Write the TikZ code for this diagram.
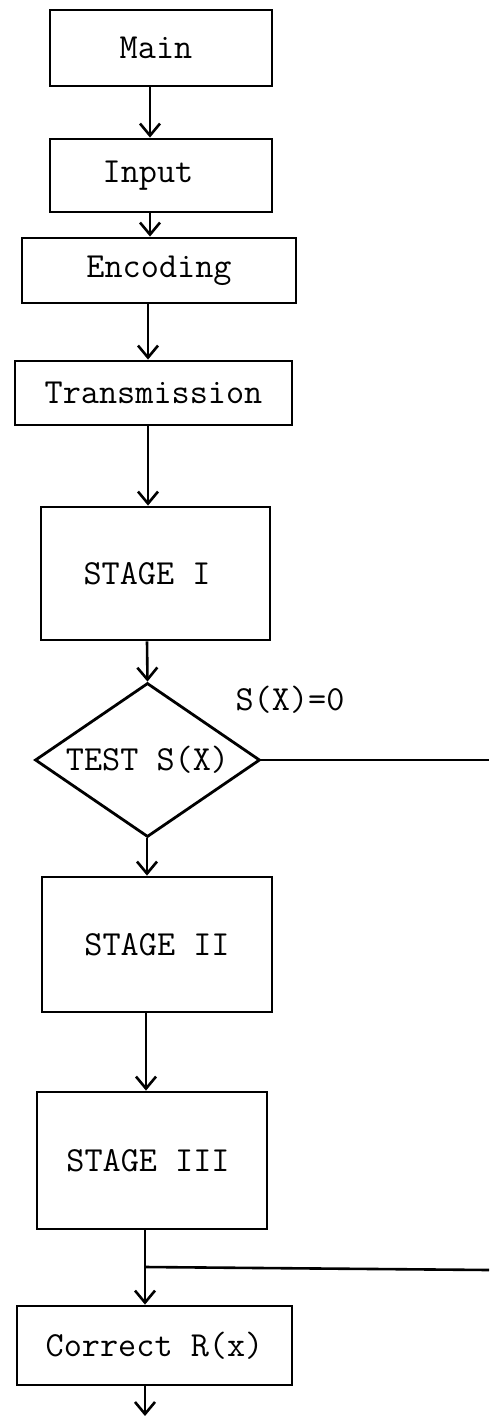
\documentclass[tikz,border=0pt]{standalone}
\usetikzlibrary{arrows.meta,shapes.geometric}
\begin{document}
\begin{tikzpicture}[x=0.5pt,y=-0.5pt,
  every node/.style={font=\ttfamily\fontsize{17.6pt}{20pt}\selectfont},
  box/.style={draw,line width=1.4pt,inner sep=0pt},
  dec/.style={draw,diamond,line width=1.4pt,inner sep=0pt,aspect=1.46},
  flow/.style={line width=1.3pt},
  arr/.style={flow,-{Straight Barb[length=6pt,width=10pt,line width=1.3pt]}},
  lbl/.style={inner sep=0pt}]
\useasboundingbox (0,0) rectangle (489,1416);
% boxes
\node[box,minimum width=111pt,minimum height=38pt] (main) at (161,48) {Main\kern5pt};
\node[box,minimum width=111pt,minimum height=36.5pt] (input) at (161,175.5) {Input\kern13pt};
\node[box,minimum width=137pt,minimum height=32.5pt] (enc) at (159,270.5) {Encoding};
\node[box,minimum width=138.5pt,minimum height=32pt] (trans) at (153.5,393) {Transmission};
\node[box,minimum width=114.5pt,minimum height=66.5pt] (s1) at (155.5,573.5) {STAGE I\kern8.5pt};
\node[dec,minimum width=112.5pt,minimum height=77pt] (test) at (147.5,760) {TEST S(X)};
\node[box,minimum width=115pt,minimum height=67.5pt] (s2) at (157,944.5) {STAGE II};
\node[box,minimum width=115pt,minimum height=68.5pt] (s3) at (152,1160.5) {STAGE III\kern4pt};
\node[box,minimum width=137.5pt,minimum height=39.5pt] (corr) at (154.5,1345.5) {Correct R(x)};
\node[lbl] (cond) at (290,700) {S(X)=0};
% spine coordinates
\coordinate (xa) at (150,0);
\coordinate (xb) at (148,0);
\coordinate (xc) at (147,0);
\coordinate (xd) at (146,0);
\coordinate (xe) at (145,0);
\coordinate (out1) at (489,760);
\coordinate (junc) at (145,1267);
\coordinate (out2) at (489,1270);
\coordinate (bottom) at (145,1416);
% connectors
\draw[arr] (main.south -| xa) -- (input.north -| xa);
\draw[arr] (input.south -| xa) -- (enc.north -| xa);
\draw[arr] (enc.south -| xb) -- (trans.north -| xb);
\draw[arr] (trans.south -| xb) -- (s1.north -| xb);
\draw[arr] (s1.south -| xc) -- (test.north);
\draw[arr] (test.south -| xc) -- (s2.north -| xc);
\draw[arr] (s2.south -| xd) -- (s3.north -| xd);
\draw[arr] (s3.south -| xe) -- (corr.north -| xe);
\draw[arr] (corr.south -| xe) -- (bottom);
\draw[flow] (test.east) -- (out1);
\draw[flow] (junc) -- (out2);
\end{tikzpicture}
\end{document}
